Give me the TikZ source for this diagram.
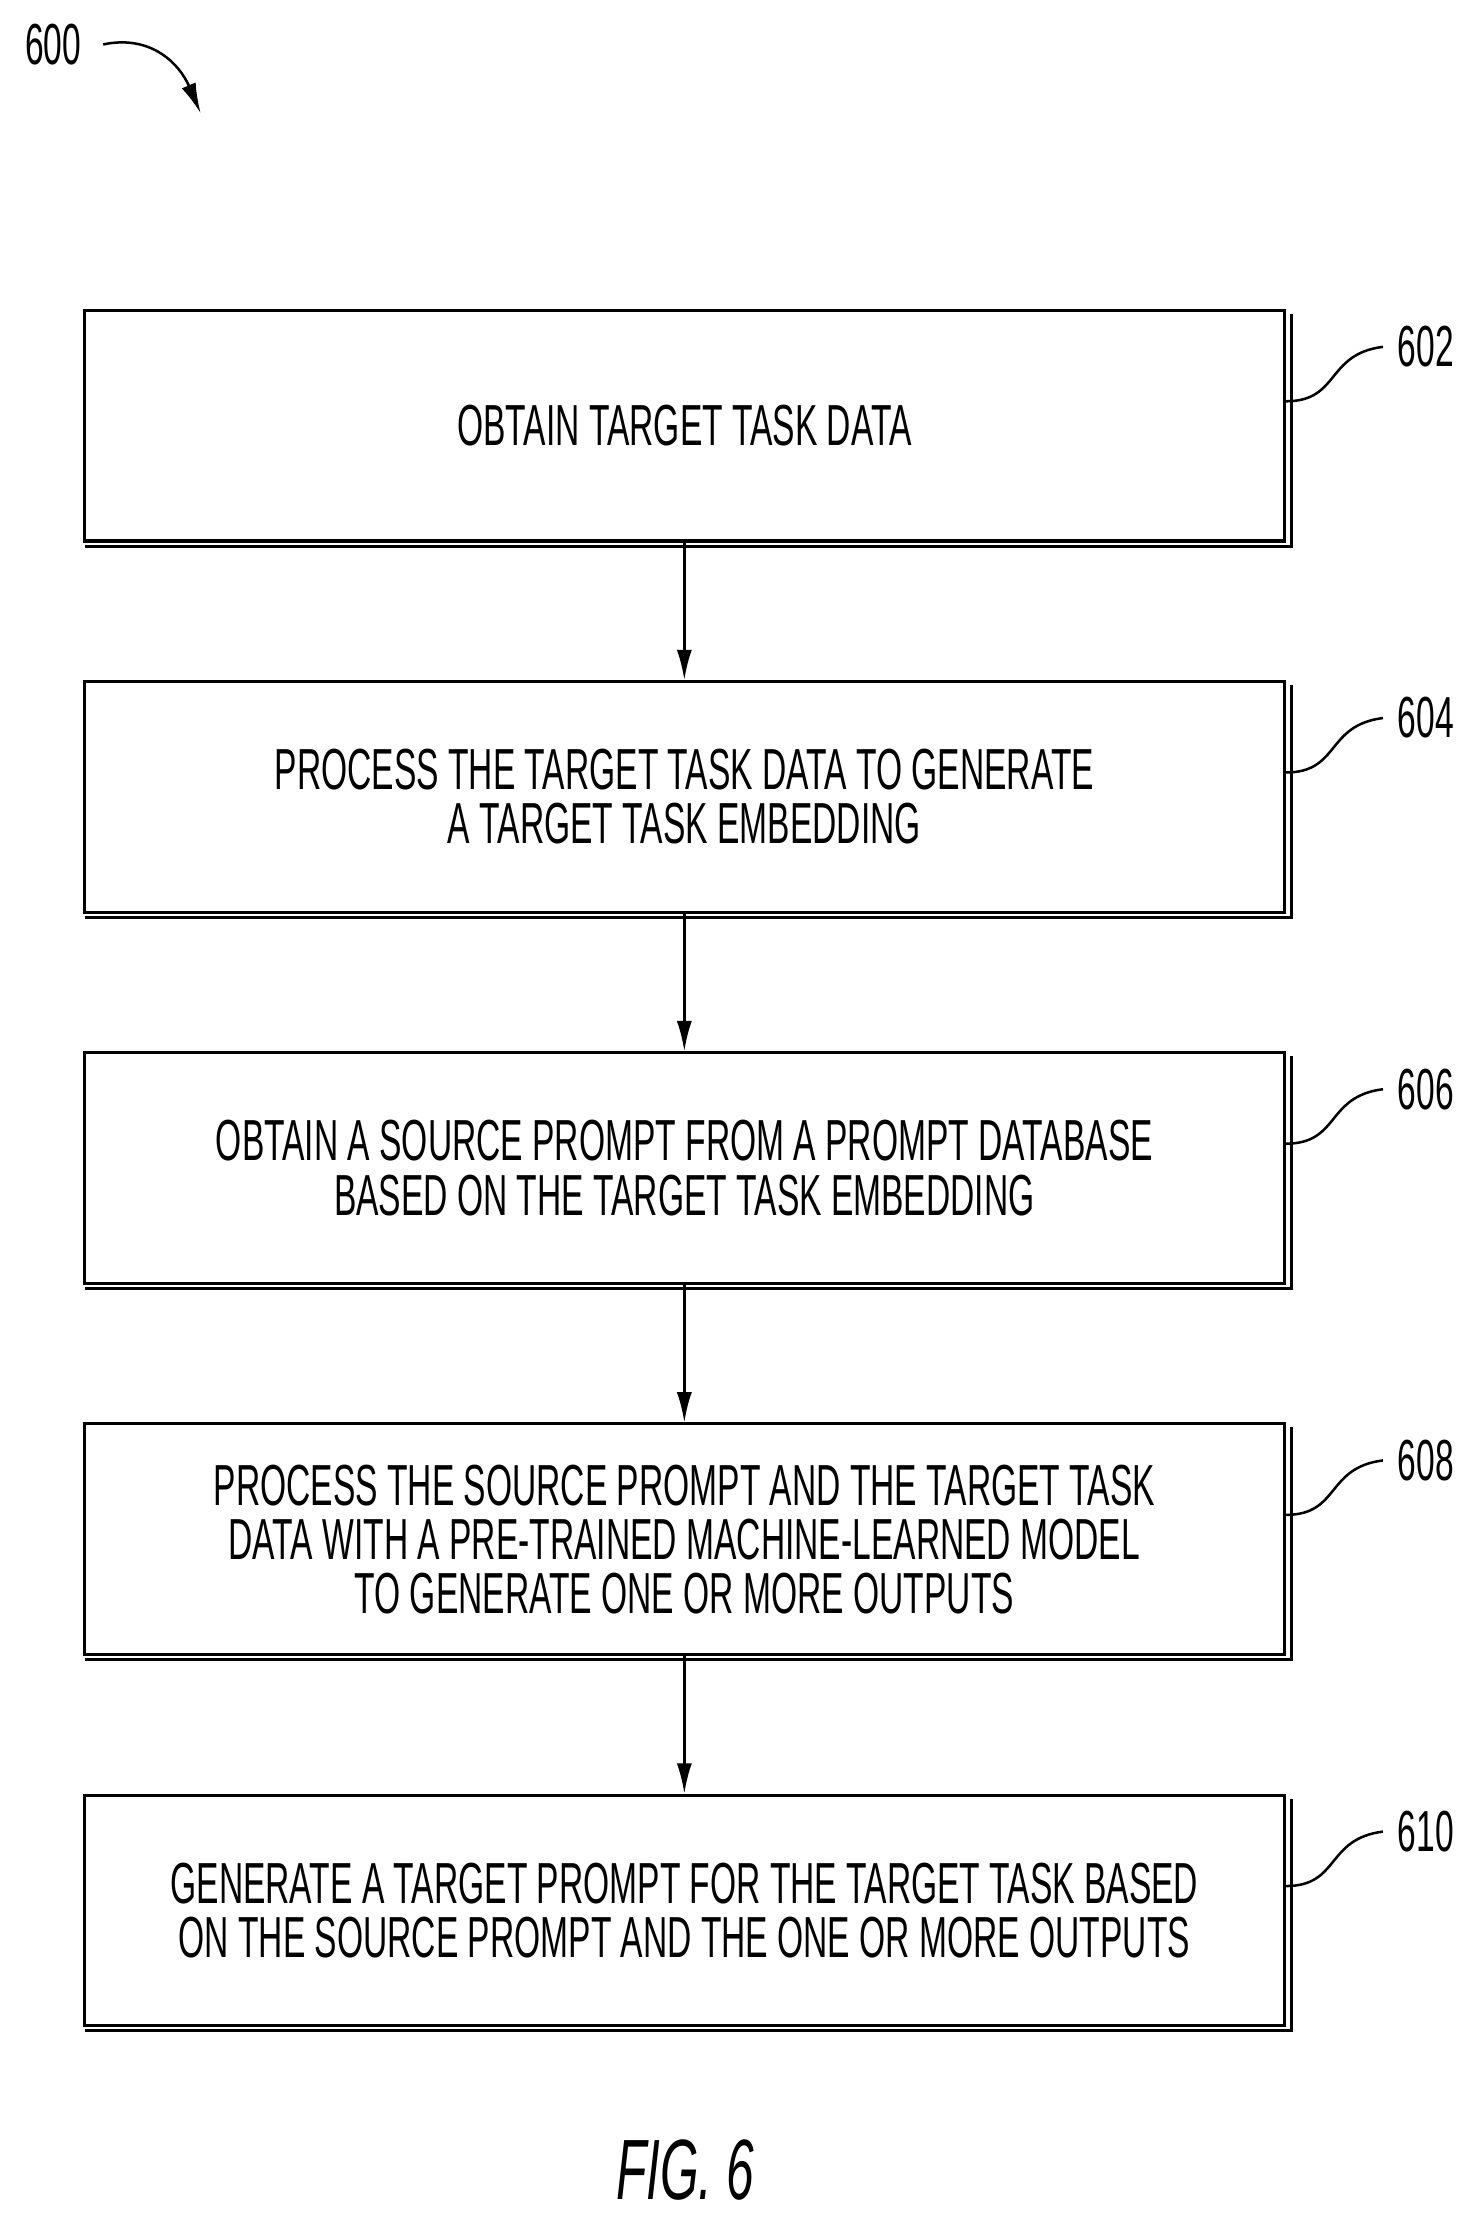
\documentclass[tikz,border=0pt]{standalone}
\usepackage{fontspec}
\setmainfont{Liberation Sans}[FakeStretch=0.58]
\usetikzlibrary{arrows.meta}
\begin{document}
\begin{tikzpicture}[x=0.02cm,y=-0.02cm,
 box/.style={draw,line width=1.2pt,minimum width=16.75cm,minimum height=3.22cm,inner sep=0pt,align=center,font=\fontsize{23}{21.5}\selectfont,fill=white},
 arr/.style={-{Latex[length=12pt,width=6pt]},line width=1pt},
 lbl/.style={font=\fontsize{23}{28}\selectfont}]
\useasboundingbox (0,0) rectangle (1024,1556);
\foreach \n/\y/\t in {602/297/{OBTAIN TARGET TASK DATA},
 604/556/{PROCESS THE TARGET TASK DATA TO GENERATE\\A TARGET TASK EMBEDDING},
 606/815/{OBTAIN A SOURCE PROMPT FROM A PROMPT DATABASE\\BASED ON THE TARGET TASK EMBEDDING},
 608/1074/{PROCESS THE SOURCE PROMPT AND THE TARGET TASK\\DATA WITH A PRE-TRAINED MACHINE-LEARNED MODEL\\TO GENERATE ONE OR MORE OUTPUTS},
 610/1333/{GENERATE A TARGET PROMPT FOR THE TARGET TASK BASED\\ON THE SOURCE PROMPT AND THE ONE OR MORE OUTPUTS}}{
 \draw[line width=1.2pt] (59,\y+84) -- (901,\y+84) -- (901,\y-78);
 \node[box] (b\n) at (477.5,\y) {\t};
 \node[lbl] (l\n) at (995,\y-55) {\n};
 \draw[line width=1pt] (b\n.east) ++(0,-17) coordinate (c\n) .. controls (935,\y-17) and (925,\y-50) .. (965,\y-55);
}
\draw[arr] (b602) -- (b604);
\draw[arr] (b604) -- (b606);
\draw[arr] (b606) -- (b608);
\draw[arr] (b608) -- (b610);
\node[lbl] (l600) at (37,31) {600};
\draw[arr] (72,31) .. controls (105,24) and (125,44) .. (140,79);
\node[font=\fontsize{34}{40}\selectfont\itshape] (fig) at (478,1514) {FIG. 6};
\end{tikzpicture}
\end{document}
